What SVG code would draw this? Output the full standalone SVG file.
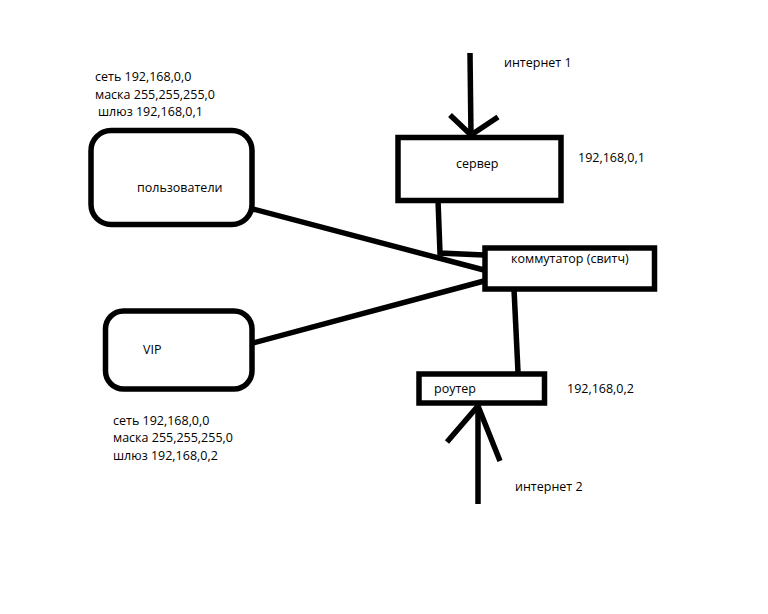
<svg xmlns="http://www.w3.org/2000/svg" width="768" height="614" viewBox="0 0 768 614">
<style>
.box{fill:none;stroke:#000;stroke-width:5.5}
.ln{fill:none;stroke:#000;stroke-width:5.5;stroke-linecap:butt;stroke-linejoin:miter}
text{font-family:"Open Sans","Noto Sans","Liberation Sans",sans-serif;font-size:12.5px;fill:#000}
</style>
<rect width="768" height="614" fill="#fff"/>
<g id="connectors">
<path class="ln" d="M253,209 L484,270"/>
<path class="ln" d="M253,343 L484,281"/>
<path class="ln" d="M438,200 L440,253 L484,255"/>
<path class="ln" d="M514,289 L518,372"/>
<path class="ln" d="M470,53 L471,136"/>
<path class="ln" d="M450,115 L471,135 L498,117"/>
<path class="ln" d="M478,406 L478,504"/>
<path class="ln" d="M447,442 L478,406 L500,461"/>
</g>
<g id="users">
<rect class="box" x="91" y="130.5" width="161" height="94" rx="20" ry="20"/>
<text x="137" y="192">пользователи</text>
</g>
<g id="users-info">
<text x="95" y="81">сеть 192,168,0,0</text>
<text x="95" y="99">маска 255,255,255,0</text>
<text x="98" y="116">шлюз 192,168,0,1</text>
</g>
<g id="vip">
<rect class="box" x="105.5" y="311" width="146.5" height="78" rx="18" ry="18"/>
<text x="143" y="354">VIP</text>
</g>
<g id="vip-info">
<text x="113" y="424.5">сеть 192,168,0,0</text>
<text x="113" y="442">маска 255,255,255,0</text>
<text x="113" y="459.5">шлюз 192,168,0,2</text>
</g>
<g id="server">
<rect class="box" x="398" y="137.5" width="163" height="63"/>
<text x="456" y="168">сервер</text>
<text x="578" y="162">192,168,0,1</text>
</g>
<g id="internet1"><text x="504" y="67">интернет 1</text></g>
<g id="switch">
<rect class="box" x="485" y="248" width="169.5" height="41"/>
<text x="511" y="263">коммутатор (свитч)</text>
</g>
<g id="router">
<rect class="box" x="419" y="374" width="125.5" height="29"/>
<text x="434" y="393">роутер</text>
<text x="567" y="393">192,168,0,2</text>
</g>
<g id="internet2"><text x="515" y="491">интернет 2</text></g>
</svg>
